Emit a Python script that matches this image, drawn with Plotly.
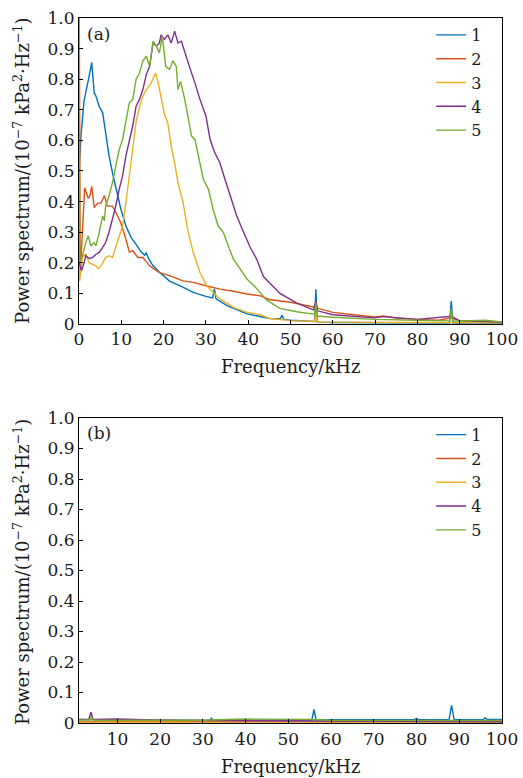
import plotly.graph_objects as go
from plotly.subplots import make_subplots

names = ["1", "2", "3", "4", "5"]
colors = ["#0072BD", "#D95319", "#EDB120", "#7E2F8E", "#77AC30"]

# ---- panel (a) ----
fa1 = [0, 0.5, 1.2, 1.6, 2.4, 3.0, 3.6, 4.0, 4.8, 5.6, 6.3, 7.1, 7.9, 8.7, 9.9, 11.1, 12.3, 13.5, 14.7, 15.5, 15.9, 16.4,
       17.5, 19, 21.4, 23.8, 27, 30, 31.6, 32, 32.4, 35, 39.7, 45, 47.6, 48, 48.4, 50, 55, 55.7, 56, 56.3, 60, 70, 80,
       87.6, 88, 88.4, 95, 100]
va1 = [0.5, 0.62, 0.73, 0.755, 0.81, 0.855, 0.755, 0.745, 0.71, 0.69, 0.625, 0.55, 0.495, 0.445, 0.375, 0.32, 0.283,
       0.26, 0.235, 0.225, 0.232, 0.215, 0.19, 0.17, 0.14, 0.125, 0.103, 0.09, 0.085, 0.115, 0.082, 0.06, 0.033, 0.018,
       0.017, 0.029, 0.015, 0.012, 0.008, 0.008, 0.113, 0.006, 0.005, 0.004, 0.004, 0.003, 0.075, 0.003, 0.003, 0.003]

fa2 = [0, 0.3, 0.8, 1.35, 1.7, 2.2, 2.6, 3.0, 3.6, 4.4, 5.2, 6.0, 6.7, 7.9, 8.7, 9.9, 11.1, 11.9, 12.7, 13.9, 15.1,
       16.7, 19, 21.4, 24.6, 27, 30, 33.3, 36.5, 39.7, 42.9, 45, 50, 55, 55.7, 56, 56.3, 60, 65, 70, 72, 75, 80, 85,
       88, 90, 100]
va2 = [1.2, 0.16, 0.3, 0.445, 0.43, 0.41, 0.42, 0.45, 0.38, 0.395, 0.395, 0.42, 0.385, 0.385, 0.365, 0.33, 0.277,
       0.235, 0.24, 0.217, 0.217, 0.19, 0.168, 0.158, 0.141, 0.136, 0.125, 0.114, 0.107, 0.098, 0.092, 0.08, 0.071,
       0.056, 0.055, 0.07, 0.052, 0.038, 0.031, 0.023, 0.026, 0.019, 0.015, 0.012, 0.02, 0.01, 0.007]

fa3 = [0, 0.15, 0.8, 1.6, 2.4, 3.2, 4.0, 4.6, 5.4, 6.3, 7.1, 7.9, 8.7, 9.5, 10.3, 11.1, 11.9, 12.7, 13.5, 14.3, 15.1,
       15.9, 16.7, 17.5, 18.1, 18.7, 19.4, 20.2, 21, 21.8, 22.6, 23.4, 24.6, 25.8, 27, 28.6, 30.2, 31.7, 33.3, 36.5,
       39.7, 42.9, 45, 50, 55, 55.7, 56, 56.3, 60, 100]
va3 = [1.2, 0.14, 0.22, 0.228, 0.2, 0.195, 0.19, 0.18, 0.195, 0.217, 0.223, 0.217, 0.25, 0.283, 0.32, 0.397, 0.484,
       0.58, 0.66, 0.71, 0.745, 0.766, 0.78, 0.8, 0.82, 0.79, 0.74, 0.685, 0.657, 0.58, 0.527, 0.462, 0.397, 0.3,
       0.234, 0.168, 0.125, 0.103, 0.082, 0.054, 0.038, 0.03, 0.018, 0.011, 0.008, 0.008, 0.04, 0.006, 0.006, 0.004]

fa4 = [0, 0.6, 1.2, 1.6, 2.4, 3.2, 4.0, 4.8, 5.6, 6.3, 7.1, 7.9, 8.7, 9.5, 10.3, 11.1, 11.9, 12.7, 13.5, 14.3, 15.1,
       15.9, 16.7, 17.5, 18.3, 19, 19.4, 20.2, 21, 21.8, 22.6, 23.4, 24.2, 25, 26.2, 27.4, 28.6, 30, 31, 32.1, 33.3,
       34.5, 35.7, 37.3, 38.9, 40.5, 42, 43.6, 47.5, 51.5, 55.4, 56, 56.4, 60, 70, 72, 80, 88, 90, 100]
va4 = [0.2, 0.175, 0.2, 0.223, 0.214, 0.217, 0.228, 0.234, 0.25, 0.266, 0.3, 0.342, 0.386, 0.44, 0.484, 0.55, 0.603,
       0.647, 0.712, 0.734, 0.766, 0.815, 0.842, 0.918, 0.908, 0.918, 0.945, 0.93, 0.945, 0.918, 0.957, 0.918, 0.924,
       0.886, 0.837, 0.788, 0.734, 0.68, 0.603, 0.56, 0.527, 0.473, 0.418, 0.353, 0.3, 0.25, 0.212, 0.155, 0.1, 0.068,
       0.046, 0.075, 0.043, 0.03, 0.02, 0.024, 0.015, 0.025, 0.01, 0.006]

fa5 = [0, 0.15, 0.8, 1.6, 2.2, 2.8, 3.6, 4.0, 4.8, 5.6, 6.0, 6.3, 7.1, 7.9, 8.7, 9.5, 10.3, 11.1, 11.9, 12.7, 13.5,
       14.3, 15.1, 15.9, 16.7, 17.5, 18.3, 19, 19.7, 20.5, 21.4, 22.2, 23, 23.4, 24, 25, 25.8, 26.6, 27.4, 28.2, 29.4,
       30.6, 31.7, 32.9, 34.1, 35.3, 36.5, 38.1, 39.7, 41.6, 44.4, 47.5, 51.5, 55, 55.7, 56, 56.3, 60, 70, 80, 87.6,
       88, 88.4, 96, 100]
va5 = [1.2, 0.2, 0.22, 0.266, 0.288, 0.255, 0.266, 0.255, 0.3, 0.353, 0.337, 0.386, 0.418, 0.462, 0.516, 0.57, 0.603,
       0.668, 0.723, 0.734, 0.8, 0.82, 0.86, 0.875, 0.842, 0.924, 0.908, 0.886, 0.94, 0.842, 0.832, 0.86, 0.842, 0.766,
       0.793, 0.734, 0.68, 0.614, 0.603, 0.55, 0.473, 0.44, 0.375, 0.32, 0.3, 0.255, 0.212, 0.18, 0.147, 0.122, 0.078,
       0.051, 0.04, 0.033, 0.033, 0.07, 0.026, 0.022, 0.015, 0.012, 0.01, 0.05, 0.009, 0.012, 0.007]

# ---- panel (b) ----
fb1 = [1, 3, 10, 20, 30, 31.6, 32, 32.4, 40, 50, 55.5, 56, 56.5, 60, 70, 79.5, 80, 80.5, 87.6, 88.2, 88.8, 95.6, 96,
       96.4, 100]
vb1 = [0.012, 0.011, 0.01, 0.008, 0.008, 0.008, 0.016, 0.008, 0.009, 0.01, 0.01, 0.045, 0.01, 0.011, 0.011, 0.011,
       0.015, 0.011, 0.011, 0.058, 0.011, 0.011, 0.017, 0.012, 0.012]
fb2 = [1, 20, 35, 50, 100]
vb2 = [0.004, 0.004, 0.006, 0.005, 0.004]
fb3 = [1, 30, 60, 100]
vb3 = [0.003, 0.003, 0.003, 0.003]
fb4 = [1, 3.3, 3.8, 4.3, 10, 20, 30, 50, 60, 100]
vb4 = [0.012, 0.012, 0.035, 0.012, 0.013, 0.009, 0.008, 0.007, 0.005, 0.004]
fb5 = [1, 3.5, 3.9, 4.3, 10, 30, 40, 50, 55, 60, 100]
vb5 = [0.01, 0.01, 0.022, 0.01, 0.009, 0.009, 0.013, 0.013, 0.012, 0.009, 0.008]

y_ticks = [0, 0.1, 0.2, 0.3, 0.4, 0.5, 0.6, 0.7, 0.8, 0.9, 1.0]
y_text = ["0", "0.1", "0.2", "0.3", "0.4", "0.5", "0.6", "0.7", "0.8", "0.9", "1.0"]
xa_ticks = [0, 10, 20, 30, 40, 50, 60, 70, 80, 90, 100]
xb_ticks = [10, 20, 30, 40, 50, 60, 70, 80, 90, 100]

FONT = "DejaVu Serif"
TXT = "#1a1a1a"

fig = make_subplots(rows=2, cols=1, vertical_spacing=0.0)

top = [(fa1, va1), (fa2, va2), (fa3, va3), (fa4, va4), (fa5, va5)]
bot = [(fb1, vb1), (fb2, vb2), (fb3, vb3), (fb4, vb4), (fb5, vb5)]
for i, (fx, fy) in enumerate(top):
    fig.add_trace(go.Scatter(x=fx, y=fy, mode="lines", name=names[i],
                             line=dict(color=colors[i], width=1.4), legend="legend"), row=1, col=1)
for i, (fx, fy) in enumerate(bot):
    fig.add_trace(go.Scatter(x=fx, y=fy, mode="lines", name=names[i],
                             line=dict(color=colors[i], width=1.4), legend="legend2"), row=2, col=1)

axis_common = dict(showline=True, linecolor="black", linewidth=1.2, mirror=True, ticks="inside",
                   ticklen=4, tickcolor="black", showgrid=False, zeroline=False, automargin=False,
                   tickfont=dict(family=FONT, size=17, color=TXT))

ytitle = "Power spectrum/(10<sup>−7</sup> kPa<sup>2</sup>·Hz<sup>−1</sup>)"
xtitle = "Frequency/kHz"
fig.update_xaxes(**axis_common)
fig.update_yaxes(**axis_common)

fig.update_layout(
    width=523, height=778,
    margin=dict(l=79, r=21, t=18, b=55),
    plot_bgcolor="white", paper_bgcolor="white",
    font=dict(family=FONT, size=17, color=TXT),
    xaxis=dict(domain=[0, 1], range=[0, 100], tickvals=xa_ticks),
    yaxis=dict(domain=[0.566, 1], range=[0, 1], tickvals=y_ticks, ticktext=y_text),
    xaxis2=dict(domain=[0, 1], range=[1, 100], tickvals=xb_ticks),
    yaxis2=dict(domain=[0, 0.4326], range=[0, 1], tickvals=y_ticks, ticktext=y_text),
    legend=dict(x=0.965, y=1.0, xanchor="right", yanchor="top", bgcolor="rgba(0,0,0,0)",
                font=dict(family=FONT, size=16), tracegroupgap=0, itemwidth=30),
    legend2=dict(x=0.965, y=0.433, xanchor="right", yanchor="top", bgcolor="rgba(0,0,0,0)",
                 font=dict(family=FONT, size=16), tracegroupgap=0, itemwidth=30),
    showlegend=True,
    annotations=[
        dict(text="(a)", xref="paper", yref="paper", x=0.015, y=0.995, xanchor="left", yanchor="top",
             showarrow=False, font=dict(family=FONT, size=17)),
        dict(text="(b)", xref="paper", yref="paper", x=0.015, y=0.428, xanchor="left", yanchor="top",
             showarrow=False, font=dict(family=FONT, size=17)),
        dict(text=ytitle, xref="paper", yref="paper", x=-0.135, y=0.783, xanchor="center", yanchor="middle",
             textangle=-90, showarrow=False, font=dict(family=FONT, size=18)),
        dict(text=ytitle, xref="paper", yref="paper", x=-0.135, y=0.214, xanchor="center", yanchor="middle",
             textangle=-90, showarrow=False, font=dict(family=FONT, size=18)),
        dict(text=xtitle, xref="paper", yref="paper", x=0.5, y=0.505, xanchor="center", yanchor="middle",
             showarrow=False, font=dict(family=FONT, size=18)),
        dict(text=xtitle, xref="paper", yref="paper", x=0.5, y=-0.0624, xanchor="center", yanchor="middle",
             showarrow=False, font=dict(family=FONT, size=18)),
    ],
)

fig.write_html("out.html")
